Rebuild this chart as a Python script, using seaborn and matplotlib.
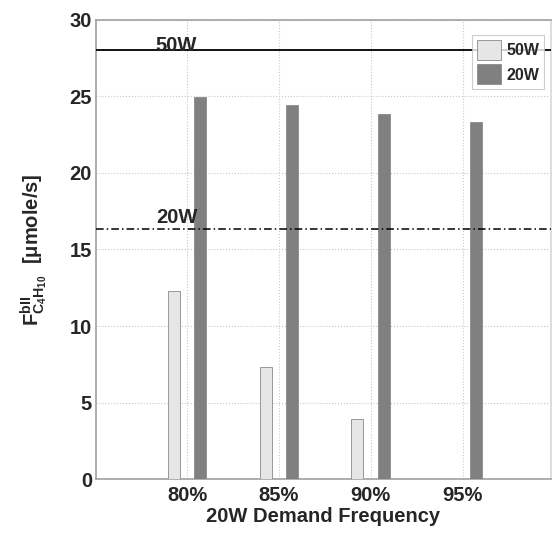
import matplotlib
matplotlib.use("Agg")
import matplotlib.pyplot as plt
import seaborn as sns
import pandas as pd

# Demand frequency categories and butane flow per power level
frequencies = ["80%", "85%", "90%", "95%"]
flow_50w = [12.3, 7.35, 3.9, 0.0]
flow_20w = [24.95, 24.4, 23.85, 23.3]
series_names = ["50W", "20W"]
ref_50w = 28.0
ref_20w = 16.35
y_ticks = [0, 5, 10, 15, 20, 25, 30]

df = pd.DataFrame({
    "freq": frequencies * 2,
    "flow": flow_50w + flow_20w,
    "series": [series_names[0]] * len(frequencies) + [series_names[1]] * len(frequencies),
})

sns.set_style("white")
plt.rcParams["font.family"] = ["Liberation Sans", "DejaVu Sans"]
plt.rcParams["font.weight"] = "bold"
plt.rcParams["mathtext.fontset"] = "custom"
plt.rcParams["mathtext.rm"] = "Liberation Sans:bold"
plt.rcParams["mathtext.bf"] = "Liberation Sans:bold"
plt.rcParams["mathtext.it"] = "Liberation Sans:bold"

fig = plt.figure(figsize=(5.52, 5.33), dpi=100)
ax = fig.add_axes([0.174, 0.101, 0.824, 0.862])

palette = {"50W": "#e6e6e6", "20W": "#808080"}
sns.barplot(data=df, x="freq", y="flow", hue="series", order=frequencies,
            hue_order=series_names, palette=palette, width=0.58, gap=0.55,
            edgecolor="#8a8a8a", linewidth=0.6, saturation=1, ax=ax, zorder=3)

# Reference levels
ax.axhline(ref_50w, color="black", lw=1.3, ls="-", zorder=4)
ax.axhline(ref_20w, color="black", lw=1.1, ls=(0, (5, 2, 1, 2)), zorder=4)
ax.text(-0.34, ref_50w - 0.3, "50W", fontsize=14.5, fontweight="bold",
        ha="left", va="bottom", zorder=5)
ax.text(-0.34, ref_20w + 0.1, "20W", fontsize=14.5, fontweight="bold",
        ha="left", va="bottom", zorder=5)

ax.set_xlim(-0.99, 3.96)
ax.set_ylim(0, 30)
ax.set_yticks(y_ticks)
ax.tick_params(axis="both", labelsize=14.5, length=0)
ax.tick_params(axis="y", pad=3)
ax.tick_params(axis="x", pad=5)
for lab in ax.get_xticklabels() + ax.get_yticklabels():
    lab.set_fontweight("bold")

ax.grid(True, color="#c8c8c8", ls=":", lw=0.8, zorder=0)
ax.set_axisbelow(True)
for side in ["left", "bottom", "top", "right"]:
    ax.spines[side].set_color("#a0a0a0")
    ax.spines[side].set_linewidth(1.2)
ax.spines["right"].set_color("#d8d8d8")

ax.set_xlabel("20W Demand Frequency", fontsize=14.5, fontweight="bold", labelpad=1)
ax.set_ylabel(r"$\mathbf{F}^{\mathbf{bII}}_{\mathbf{C}_{\mathbf{4}}\mathbf{H}_{\mathbf{10}}}$  [μmole/s]",
              fontsize=14.5, fontweight="bold", labelpad=14)

leg = ax.legend(loc="upper right", bbox_to_anchor=(0.985, 0.967), borderaxespad=0,
                fontsize=11.5, frameon=True, fancybox=False, edgecolor="#c0c0c0",
                handlelength=1.55, handleheight=1.55, borderpad=0.3,
                labelspacing=0.3, handletextpad=0.3, title=None)
leg.get_frame().set_linewidth(0.8)
for t in leg.get_texts():
    t.set_fontweight("bold")
leg.set_zorder(6)

fig.savefig("out.png", dpi=100)
